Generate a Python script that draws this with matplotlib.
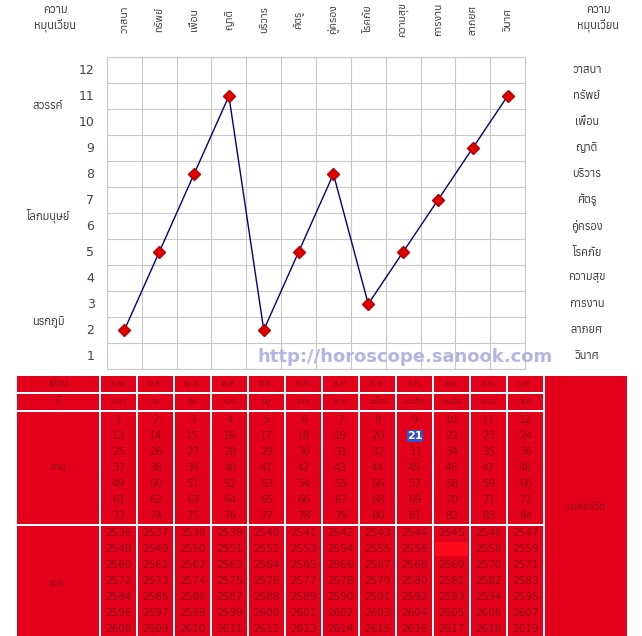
import matplotlib
matplotlib.use("Agg")
import matplotlib.pyplot as plt
from matplotlib import font_manager, ft2font
from matplotlib.patches import Rectangle

# pick a family that actually has Thai glyphs
thai = []
for f in font_manager.fontManager.ttflist:
    try:
        if 0x0E01 in ft2font.FT2Font(f.fname).get_charmap():
            thai.append(f.name)
    except Exception:
        pass
plt.rcParams['font.family'] = sorted(set(thai))[:1] + ['DejaVu Sans']
latin = 'DejaVu Sans'

# chart data
aspects = ['วาสนา', 'ทรัพย์', 'เพื่อน', 'ญาติ', 'บริวาร', 'ศัตรู',
           'คู่ครอง', 'โรคภัย', 'ความสุข', 'การงาน', 'ลาภยศ', 'วินาศ']
levels = [2, 5, 8, 11, 2, 5, 8, 3, 5, 7, 9, 11]
yticks = [1, 2, 3, 4, 5, 6, 7, 8, 9, 10, 11, 12]
realms = ['สวรรค์', 'โลกมนุษย์', 'นรกภูมิ']
realm_y = [10.6, 6.4, 2.3]

# table data
months = ['ก.พ.', 'มี.ค.', 'เม.ย.', 'พ.ค.', 'มิ.ย.', 'ก.ค.',
          'ส.ค.', 'ก.ย.', 'ต.ค.', 'พ.ย.', 'ธ.ค.', 'ม.ค.']
zodiac = ['ระกา', 'จอ', 'กุน', 'ชวด', 'ฉลู', 'ขาล',
          'เถาะ', 'มะโรง', 'มะเส็ง', 'มะเมีย', 'มะแม', 'วอก']
ages = [
    [1, 2, 3, 4, 5, 6, 7, 8, 9, 10, 11, 12],
    [13, 14, 15, 16, 17, 18, 19, 20, 21, 22, 23, 24],
    [25, 26, 27, 28, 29, 30, 31, 32, 33, 34, 35, 36],
    [37, 38, 39, 40, 41, 42, 43, 44, 45, 46, 47, 48],
    [49, 50, 51, 52, 53, 54, 55, 56, 57, 58, 59, 60],
    [61, 62, 63, 64, 65, 66, 67, 68, 69, 70, 71, 72],
    [73, 74, 75, 76, 77, 78, 79, 80, 81, 82, 83, 84],
]
be_years = [
    [2536, 2537, 2538, 2539, 2540, 2541, 2542, 2543, 2544, 2545, 2546, 2547],
    [2548, 2549, 2550, 2551, 2552, 2553, 2554, 2555, 2556, 2557, 2558, 2559],
    [2560, 2561, 2562, 2563, 2564, 2565, 2566, 2567, 2568, 2569, 2570, 2571],
    [2572, 2573, 2574, 2575, 2576, 2577, 2578, 2579, 2580, 2581, 2582, 2583],
    [2584, 2585, 2586, 2587, 2588, 2589, 2590, 2591, 2592, 2593, 2594, 2595],
    [2596, 2597, 2598, 2599, 2600, 2601, 2602, 2603, 2604, 2605, 2606, 2607],
    [2608, 2609, 2610, 2611, 2612, 2613, 2614, 2615, 2616, 2617, 2618, 2619],
]
current_age = 21
current_year = 2557

W, H = 642, 636
fig = plt.figure(figsize=(W / 100, H / 100), dpi=100)

# full-figure pixel axes for the table and loose labels
bg = fig.add_axes([0, 0, 1, 1])
bg.set_xlim(0, W)
bg.set_ylim(H, 0)
bg.axis('off')

# chart axes
x0, x1, y0, y1 = 107, 525, 57, 369
ax = fig.add_axes([x0 / W, 1 - y1 / H, (x1 - x0) / W, (y1 - y0) / H])
idx = list(range(len(aspects)))
ax.plot(idx, levels, color='#000080', lw=1, marker='D', ms=6.5,
        mfc='#e00000', mec='#b00000', zorder=3)
ax.set_xlim(-0.5, len(aspects) - 0.5)
ax.set_ylim(0.5, 12.5)
ax.set_xticks([i - 0.5 for i in idx] + [len(aspects) - 0.5])
ax.set_yticks([v - 0.5 for v in yticks] + [12.5])
ax.tick_params(length=0, labelbottom=False, labelleft=False)
ax.grid(True, color='#c8c8c8', lw=0.8)
for s in ax.spines.values():
    s.set_color('#c8c8c8')
    s.set_linewidth(0.8)

ty = ax.get_yaxis_transform()
tx = ax.get_xaxis_transform()
for v in yticks:
    ax.text(-0.03, v, str(v), transform=ty, ha='right', va='center',
            fontsize=9, color='#444444', family=latin)
for name, v in zip(aspects, yticks[::-1]):
    ax.text(1.148, v, name, transform=ty, ha='center', va='center',
            fontsize=8, color='#333333')
for name, v in zip(realms, realm_y):
    ax.text(-0.141, v, name, transform=ty, ha='center', va='center',
            fontsize=8, color='#333333')
for i, name in zip(idx, aspects):
    ax.text(i, 1.12, name, transform=tx, rotation=90, ha='center',
            va='center', fontsize=7.5, color='#333333')
ax.text(405 / W, 1 - 357 / H, 'http://horoscope.sanook.com',
        transform=fig.transFigure, ha='center', va='center',
        fontsize=13, fontweight='bold', color='#b4b4e4', zorder=5, family=latin)
for xc in (55, 598):
    bg.text(xc, 10, 'ความ', ha='center', va='center', fontsize=8, color='#333333')
    bg.text(xc, 26, 'หมุนเวียน', ha='center', va='center', fontsize=8, color='#333333')

# table
red = '#e2001a'
ink = '#8e0614'
col_x = [101 + 37 * i for i in range(12)]
cw = 35
rows = [(376, 392), (394, 410), (412, 524), (526, 640)]


def cell(x, y, w, h, c=red):
    bg.add_patch(Rectangle((x, y), w, h, facecolor=c, edgecolor='none'))


left_titles = ['เดือน', 'ปี', 'อายุ', 'พ.ศ.']
for (ya, yb), t in zip(rows, left_titles):
    cell(17, ya, 82, yb - ya)
    bg.text(58, (ya + yb) / 2 if yb < 600 else 583, t, ha='center',
            va='center', fontsize=7, color=ink)
cell(545, 376, 82, 264)
bg.text(586, 507, 'มงคลชีวิต', ha='center', va='center', fontsize=7, color=ink)

for c in range(12):
    xc = col_x[c] + cw / 2
    cell(col_x[c], rows[0][0], cw, rows[0][1] - rows[0][0])
    bg.text(xc, 384, months[c], ha='center', va='center', fontsize=6.5, color=ink)
    cell(col_x[c], rows[1][0], cw, rows[1][1] - rows[1][0])
    bg.text(xc, 402, zodiac[c], ha='center', va='center', fontsize=6, color=ink)
    cell(col_x[c], rows[2][0], cw, rows[2][1] - rows[2][0])
    for r in range(7):
        a = ages[r][c]
        yy = 420 + 16 * r
        if a == current_age:
            cell(xc - 8, yy - 6, 16, 12, '#3355cc')
            bg.text(xc, yy, str(a), ha='center', va='center', fontsize=8,
                    fontweight='bold', color='white', family=latin)
        else:
            bg.text(xc, yy, str(a), ha='center', va='center', fontsize=7.5,
                    color=ink, family=latin)
    cell(col_x[c], rows[3][0], cw, rows[3][1] - rows[3][0])
    for r in range(7):
        b = be_years[r][c]
        yy = 533 + 16 * r
        if b == current_year:
            cell(col_x[c] + 1, yy - 7, cw - 2, 14, '#ff0a1a')
            bg.text(xc, yy, str(b), ha='center', va='center', fontsize=7.5,
                    color='#ff0a1a', family=latin)
        else:
            bg.text(xc, yy, str(b), ha='center', va='center', fontsize=7.5,
                    color=ink, family=latin)

fig.savefig('out.png', dpi=100)
